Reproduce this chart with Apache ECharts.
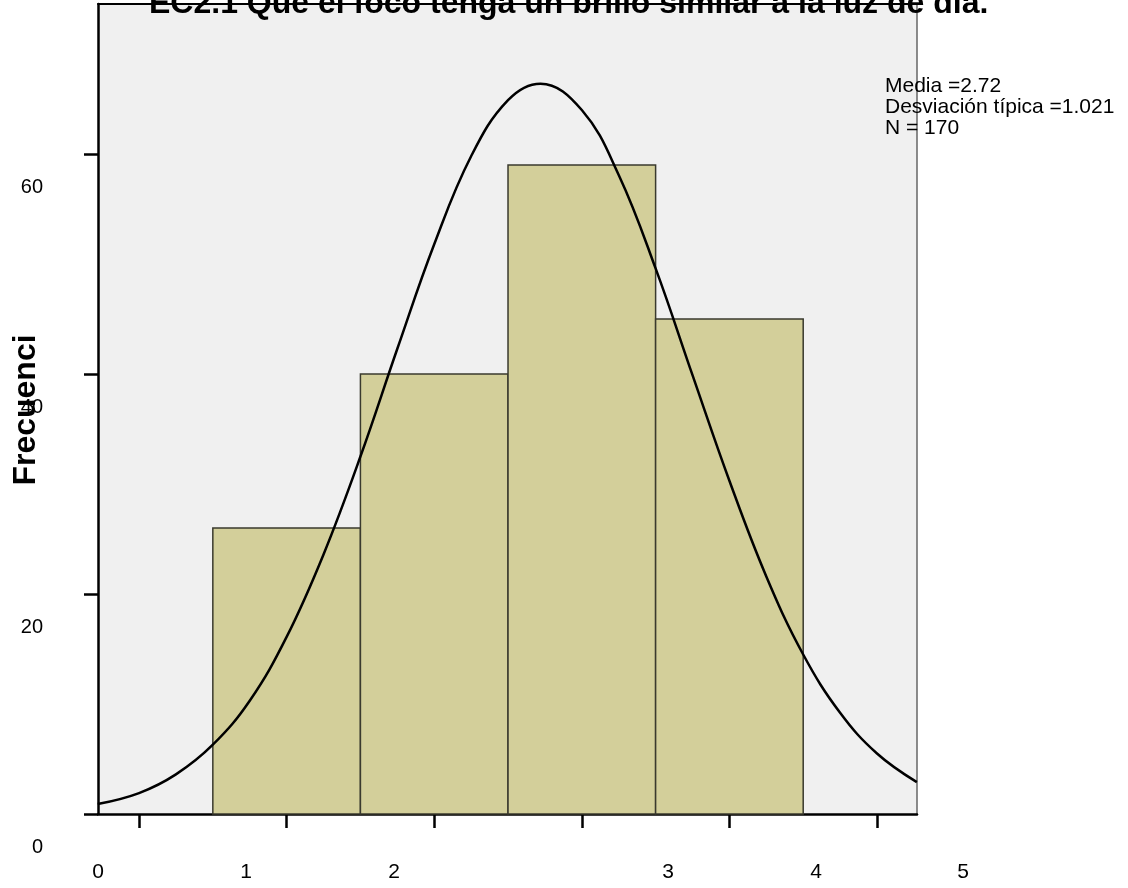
<!DOCTYPE html>
<html>
<head>
<meta charset="utf-8">
<title>EC2.1 histograma</title>
<script src="https://cdn.jsdelivr.net/npm/echarts@6/dist/echarts.min.js"></script>
<style>
    html, body { margin: 0; padding: 0; background: #fff; }
    #main { width: 1128px; height: 888px; }
</style>
</head>
<body>
<div id="main"></div>
<script>
//--------------------datos---------------------------
var titulo = 'EC2.1 Que el foco tenga un brillo similar a la luz de día.';
var categorias = [1, 2, 3, 4];                 // valores de la respuesta
var frecuencias = [26, 40, 59, 45];            // N = 170
// curva normal
var curvaX = [-0.28, 0, 0.25, 0.5, 0.75, 1, 1.25, 1.5, 1.75, 2, 2.25, 2.5, 2.72,
    3, 3.25, 3.5, 3.75, 4, 4.25, 4.5, 4.75, 5, 5.27];
var curvaY = [0.9, 1.9, 3.6, 6.3, 10.3, 16.1, 23.6, 32.5, 42.3, 51.8, 59.8, 64.9, 66.4,
    64.0, 58.1, 49.6, 39.9, 30.3, 21.6, 14.5, 9.2, 5.5, 2.9];
var xTicks = [0, 1, 2, 3, 4, 5];
var xEtiquetas = ['0', '1', '2', '3', '4', '5'];
var yTicks = [0, 20, 40, 60];
var estadisticos = ['Media =2.72', 'Desviación típica =1.021', 'N = 170'];
var nombreY = 'Frecuenci';
//--------------------datos---------------------------

(function(){
    var myChart = echarts.init(document.getElementById('main'));
    var fuente = '"Liberation Sans", Arial, sans-serif';

    var barras = [];
    for (var i = 0; i < categorias.length; i++) {
        barras.push([categorias[i], frecuencias[i]]);
    }
    var curva = [];
    for (var j = 0; j < curvaX.length; j++) {
        curva.push([curvaX[j], curvaY[j]]);
    }

    // las etiquetas del eje x estan desplazadas en el original
    var xPos = [98, 246, 394, 668, 816, 963];
    var graficos = [];
    for (var k = 0; k < xEtiquetas.length; k++) {
        graficos.push({
            type: 'text', x: xPos[k], y: 872, z: 10,
            style: { text: xEtiquetas[k], font: '21px ' + fuente, fill: '#000',
                align: 'center', verticalAlign: 'middle' }
        });
    }
    graficos.push({
        type: 'text', x: 885, y: 76, z: 10,
        style: { text: estadisticos.join('\n'), font: '21px ' + fuente, lineHeight: 21,
            fill: '#000', align: 'left', verticalAlign: 'top' }
    });
    graficos.push({
        type: 'text', x: 26, y: 410, rotation: Math.PI / 2, z: 10,
        style: { text: nombreY, font: 'bold 32px ' + fuente, fill: '#000',
            align: 'center', verticalAlign: 'middle' }
    });

    var option = {
        animation: false,
        textStyle: { fontFamily: fuente },
        title: {
            text: titulo,
            left: 149,
            top: -12,
            padding: 0,
            textStyle: { fontSize: 32, fontWeight: 'bold', color: '#000', fontFamily: fuente }
        },
        grid: {
            left: 98, right: 211, top: 4, bottom: 74,
            show: true, backgroundColor: '#f0f0f0', borderWidth: 0
        },
        xAxis: [
            {
                type: 'value', min: -0.278, max: 5.271, position: 'bottom',
                axisLine: { show: true, onZero: false, lineStyle: { color: '#000', width: 2.5 } },
                axisTick: { show: true, customValues: xTicks, length: 14, lineStyle: { color: '#000', width: 2.5 } },
                axisLabel: { show: false },
                splitLine: { show: false }
            },
            {
                type: 'value', min: -0.278, max: 5.271, position: 'top',
                axisLine: { show: true, onZero: false, lineStyle: { color: '#000', width: 2 } },
                axisTick: { show: false },
                axisLabel: { show: false },
                splitLine: { show: false }
            }
        ],
        yAxis: [
            {
                type: 'value', min: 0, max: 73.64, position: 'left',
                axisLine: { show: true, onZero: false, lineStyle: { color: '#000', width: 2.5 } },
                axisTick: { show: true, customValues: yTicks, length: 14, lineStyle: { color: '#000', width: 2.5 } },
                // en el original las etiquetas caen 33px por debajo de cada marca
                axisLabel: { customValues: yTicks, margin: 55, fontSize: 20, color: '#000',
                    lineHeight: 66, verticalAlign: 'middle', formatter: '\n{value}' },
                splitLine: { show: false }
            },
            {
                type: 'value', min: 0, max: 73.64, position: 'right',
                axisLine: { show: true, onZero: false, lineStyle: { color: '#666', width: 1.5 } },
                axisTick: { show: false },
                axisLabel: { show: false },
                splitLine: { show: false }
            }
        ],
        series: [
            {
                name: 'Frecuencia',
                type: 'custom',
                xAxisIndex: 0, yAxisIndex: 0,
                data: barras,
                encode: { x: 0, y: 1 },
                renderItem: function (params, api) {
                    var p0 = api.coord([api.value(0) - 0.5, api.value(1)]);
                    var p1 = api.coord([api.value(0) + 0.5, 0]);
                    return {
                        type: 'rect',
                        shape: { x: p0[0], y: p0[1], width: p1[0] - p0[0], height: p1[1] - p0[1] },
                        style: { fill: '#d3cf9a', stroke: '#3a3a2e', lineWidth: 1.5 }
                    };
                }
            },
            {
                name: 'Normal',
                type: 'line',
                xAxisIndex: 0, yAxisIndex: 0,
                data: curva,
                smooth: 0.4,
                symbol: 'none',
                z: 5,
                lineStyle: { color: '#000', width: 2.5 }
            }
        ],
        graphic: graficos
    };
    myChart.setOption(option);
})();
</script>
</body>
</html>
